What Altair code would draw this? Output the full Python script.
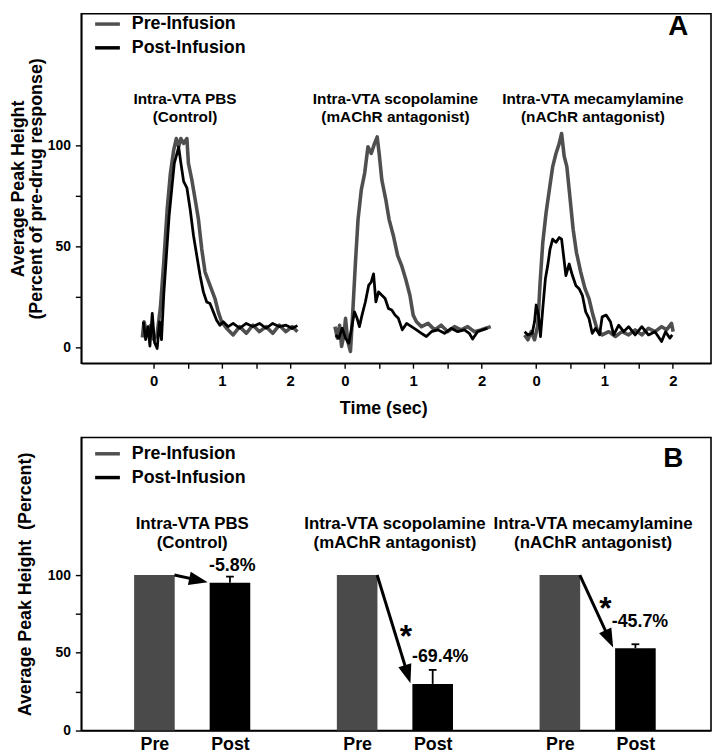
import math
import altair as alt
import pandas as pd

FONT = "Liberation Sans"

# ---------------- shared categories ----------------
phases = ["Pre-Infusion", "Post-Infusion"]
drug_line1 = ["Intra-VTA PBS", "Intra-VTA scopolamine", "Intra-VTA mecamylamine"]
drug_line2 = ["(Control)", "(mAChR antagonist)", "(nAChR antagonist)"]

# ---------------- Panel A traces (time in s, percent of pre-drug response) ----------------
pbs_pre_t = [-0.164, -0.14, -0.09, -0.045, 0.004, 0.05, 0.1, 0.15, 0.2, 0.246, 0.295, 0.333, 0.367, 0.4, 0.44,
             0.488, 0.51, 0.56, 0.609, 0.657, 0.705, 0.754, 0.826, 0.899, 0.947, 0.996, 1.068, 1.165, 1.26,
             1.357, 1.454, 1.55, 1.647, 1.744, 1.84, 1.937, 2.03, 2.106]
pbs_pre_v = [4.9, 12.7, 6.2, 10.8, 3.9, 6.2, 19.6, 42.5, 68.6, 86.0, 97.7, 103.4, 99.3, 103.4, 101.0,
             103.4, 91.2, 83.0, 73.2, 63.4, 48.7, 37.3, 30.7, 24.2, 17.6, 12.7, 9.5, 6.2, 10.3,
             7.0, 11.0, 7.8, 10.3, 7.0, 11.0, 7.8, 10.3, 7.8]
pbs_post_t = [-0.15, -0.116, -0.082, -0.053, -0.019, 0.015, 0.053, 0.087, 0.116, 0.15, 0.188, 0.227, 0.27,
              0.304, 0.343, 0.367, 0.4, 0.44, 0.488, 0.536, 0.585, 0.633, 0.681, 0.729, 0.778, 0.826, 0.875,
              0.923, 0.971, 1.02, 1.092, 1.165, 1.26, 1.357, 1.454, 1.55, 1.647, 1.744, 1.84, 1.937, 2.03, 2.106]
pbs_post_v = [12.7, 3.9, 10.3, 0.7, 16.9, 2.3, -0.5, 12.7, 3.9, 26.5, 45.4, 64.9, 79.7,
              91.2, 96.0, 99.3, 91.2, 82.2, 79.0, 68.3, 55.3, 45.4, 35.6, 27.5, 22.5, 21.7, 17.6,
              13.5, 11.0, 12.7, 10.3, 11.9, 9.5, 11.9, 10.3, 11.9, 9.5, 11.9, 10.3, 11.0, 9.5, 10.8]

sco_pre_t = [-0.145, -0.11, -0.077, -0.048, -0.014, 0.01, 0.043, 0.082, 0.116, 0.155, 0.193, 0.241, 0.29,
             0.338, 0.386, 0.435, 0.473, 0.502, 0.541, 0.599, 0.647, 0.71, 0.773, 0.831, 0.889, 0.952, 1.0,
             1.048, 1.121, 1.217, 1.314, 1.41, 1.507, 1.604, 1.7, 1.797, 1.894, 1.99, 2.063, 2.135]
sco_pre_v = [10.3, 4.6, 11.0, 0.5, 6.2, 14.4, 2.9, -2.0, 17.6, 42.1, 63.4, 78.1, 86.3,
             99.3, 96.0, 101.0, 104.2, 96.0, 82.9, 73.2, 63.4, 55.3, 45.4, 40.5, 34.0, 25.8, 16.0,
             12.7, 10.3, 11.9, 8.7, 11.0, 7.8, 10.3, 8.7, 10.3, 7.8, 8.7, 9.5, 10.3]
sco_post_t = [-0.135, -0.087, -0.039, 0.01, 0.058, 0.106, 0.14, 0.179, 0.213, 0.251, 0.3, 0.348, 0.386, 0.42,
              0.454, 0.493, 0.541, 0.589, 0.638, 0.686, 0.734, 0.783, 0.841, 0.903, 0.976, 1.048, 1.121,
              1.193, 1.266, 1.362, 1.459, 1.556, 1.652, 1.749, 1.821, 1.87, 1.942, 2.014, 2.087]
sco_post_v = [6.2, 4.6, 9.5, 4.6, 2.1, 11.0, 17.6, 14.4, 10.3, 16.0, 22.5, 30.7, 32.4, 36.4,
              22.5, 27.5, 25.8, 24.2, 19.3, 18.5, 16.0, 14.4, 8.7, 11.9, 10.3, 8.7, 7.0,
              5.4, 7.8, 8.7, 7.0, 9.5, 7.8, 8.7, 7.0, 4.2, 7.8, 8.7, 9.5]

mec_pre_t = [-0.169, -0.121, -0.072, -0.024, 0.024, 0.058, 0.097, 0.145, 0.193, 0.242, 0.29, 0.338, 0.372,
             0.41, 0.449, 0.493, 0.541, 0.589, 0.652, 0.715, 0.773, 0.831, 0.894, 0.966, 1.063, 1.159,
             1.256, 1.353, 1.449, 1.546, 1.643, 1.739, 1.836, 1.908, 1.981, 2.005]
mec_pre_v = [6.2, 3.8, 7.8, 3.8, 11.0, 32.4, 52.0, 66.7, 78.1, 89.5, 96.0, 101.0, 105.9,
             94.6, 89.5, 74.8, 58.5, 47.1, 37.3, 29.1, 24.2, 16.0, 8.7, 6.2, 7.8, 5.4,
             7.8, 6.2, 8.7, 6.2, 9.5, 7.8, 10.3, 8.7, 11.9, 7.8]
mec_post_t = [-0.169, -0.121, -0.058, -0.024, 0.0, 0.034, 0.063, 0.097, 0.135, 0.169, 0.203, 0.242, 0.29,
              0.338, 0.372, 0.401, 0.435, 0.483, 0.531, 0.58, 0.628, 0.676, 0.725, 0.773, 0.821, 0.87,
              0.928, 0.966, 1.024, 1.087, 1.135, 1.208, 1.28, 1.353, 1.449, 1.546, 1.643, 1.739, 1.836,
              1.894, 1.957, 1.991]
mec_post_v = [7.8, 6.2, 7.0, 12.7, 21.0, 16.0, 5.4, 19.3, 34.0, 40.5, 48.7, 53.6, 52.0,
              54.4, 53.6, 45.4, 35.6, 41.3, 35.6, 30.7, 29.1, 25.8, 17.6, 14.4, 7.0, 9.5,
              6.2, 15.2, 16.0, 12.7, 6.2, 11.0, 7.8, 10.3, 6.2, 10.3, 6.2, 7.8, 2.9,
              7.8, 4.6, 6.2]

traces = [
    (0, phases[0], pbs_pre_t, pbs_pre_v), (0, phases[1], pbs_post_t, pbs_post_v),
    (1, phases[0], sco_pre_t, sco_pre_v), (1, phases[1], sco_post_t, sco_post_v),
    (2, phases[0], mec_pre_t, mec_pre_v), (2, phases[1], mec_post_t, mec_post_v),
]
time_tick_labels = ["0", "1", "2"]

# ---------------- Panel B values ----------------
cond_labels = ["Pre", "Post"]
pre_values = [100, 100, 100]
post_values = [95, 30, 53]
post_err = [4, 9, 2.5]
pct_change = ["-5.8%", "-69.4%", "-45.7%"]
significant = [False, True, True]

# ---------------- layout constants ----------------
A_W, A_H = 636, 353
B_W, B_H = 636, 296
PANEL_OFFSET = [0.0, 2.8, 5.6]
A_XDOM = [-1.058, 8.159]
A_YDOM = [-7.8, 165.2]
GAP = 2.684
B_XDOM = [-0.903, -0.903 + B_W / 77.5]
B_YDOM = [0, 188.5]
PXU_X = B_W / (B_XDOM[1] - B_XDOM[0])
PXU_Y = B_H / (B_YDOM[1] - B_YDOM[0])
HALF_BAR = 20.5 / PXU_X

GRAY = "#4f4f4f"


def legend_def(ly):
    return alt.Legend(title=None, orient="none", legendX=12, legendY=ly, padding=0,
                      symbolType="stroke", symbolSize=625, symbolStrokeWidth=3.5,
                      labelFontSize=18, labelFont=FONT, labelFontWeight="bold",
                      labelColor="black", rowPadding=0, labelOffset=10)


# ---------------- Panel A ----------------
rows = []
for panel, ph, ts, vs in traces:
    for t, v in zip(ts, vs):
        rows.append({"panel": panel, "phase": ph, "t": t + PANEL_OFFSET[panel], "v": v,
                     "ord": phases.index(ph)})
df_a = pd.DataFrame(rows)

xa_vals = [round(o + d, 3) for o in PANEL_OFFSET for d in [0, 0.5, 1, 1.5, 2]]
L = "(datum.value < 2.4 ? datum.value : (datum.value < 5.2 ? datum.value - 2.8 : datum.value - 5.6))"
lbl_map = "[" + ",".join("'%s'" % s for s in time_tick_labels) + "]"
xa_expr = f"abs({L} - round({L})) < 0.01 ? {lbl_map}[round({L})] : ''"

xA = alt.X("t:Q", scale=alt.Scale(domain=A_XDOM, nice=False, zero=False),
           axis=alt.Axis(values=xa_vals, labelExpr=xa_expr, title="Time (sec)", tickSize=5,
                         labelPadding=6, labelFontSize=15, titleFontSize=18, titlePadding=11,
                         titleX=305, titleAnchor="start", titleAlign="center"))
yA = alt.Y("v:Q", scale=alt.Scale(domain=A_YDOM, nice=False, zero=False),
           axis=alt.Axis(values=[0, 25, 50, 75, 100], labelExpr="datum.value % 50 == 0 ? datum.label : ''",
                         title=["Average Peak Height", "(Percent of pre-drug response)"],
                         titleFontSize=18, titleLineHeight=18, titlePadding=2, tickSize=6, labelPadding=5))

lines = alt.Chart(df_a).mark_line(strokeJoin="round").encode(
    x=xA, y=yA,
    color=alt.Color("phase:N", scale=alt.Scale(domain=phases, range=[GRAY, "#000000"]),
                    legend=legend_def(-4)),
    strokeWidth=alt.StrokeWidth("phase:N", scale=alt.Scale(domain=phases, range=[3.6, 2.8]), legend=None),
    detail="panel:N",
    order="ord:Q",
)

title_x_local = [0.46, 0.74, 0.83]
ta_rows = []
for i in range(3):
    ta_rows.append({"x": PANEL_OFFSET[i] + title_x_local[i], "y": 123.0, "txt": drug_line1[i]})
    ta_rows.append({"x": PANEL_OFFSET[i] + title_x_local[i], "y": 114.2, "txt": drug_line2[i]})
ta = alt.Chart(pd.DataFrame(ta_rows)).mark_text(font=FONT, fontWeight="bold", fontSize=15.5,
                                                 baseline="middle", color="black").encode(
    x=alt.X("x:Q"), y=alt.Y("y:Q"), text="txt:N")
lab_a = alt.Chart(pd.DataFrame({"x": [7.68], "y": [158.8], "txt": ["A"]})).mark_text(
    font=FONT, fontWeight="bold", fontSize=28, baseline="middle", color="black").encode(
    x="x:Q", y="y:Q", text="txt:N")

panelA = alt.layer(lines, ta, lab_a).properties(width=A_W, height=A_H)

# ---------------- Panel B ----------------
b_rows = []
for g in range(3):
    b_rows.append({"g": g, "cond": cond_labels[0], "pos": g * GAP, "val": pre_values[g]})
    b_rows.append({"g": g, "cond": cond_labels[1], "pos": g * GAP + 1, "val": post_values[g]})
df_b = pd.DataFrame(b_rows)

xb_vals = [round(g * GAP + k, 3) for g in range(3) for k in (0, 1)]
xb_expr = f"round(datum.value*1000) % {int(round(GAP * 1000))} < 500 ? '{cond_labels[0]}' : '{cond_labels[1]}'"
xB = alt.X("pos:Q", scale=alt.Scale(domain=B_XDOM, nice=False, zero=False),
           axis=alt.Axis(values=xb_vals, labelExpr=xb_expr, title=None, ticks=False,
                         labelFontSize=18, labelPadding=5))
yB = alt.Y("val:Q", scale=alt.Scale(domain=B_YDOM, nice=False),
           axis=alt.Axis(values=[0, 25, 50, 75, 100], labelExpr="datum.value % 50 == 0 ? datum.label : ''",
                         title="Average Peak Height\u00a0 (Percent)", titleFontSize=18, titlePadding=13,
                         tickSize=6, labelPadding=5))

bars = alt.Chart(df_b).mark_bar(size=41).encode(
    x=xB, y=yB,
    color=alt.Color("cond:N", scale=alt.Scale(domain=cond_labels, range=["#4a4a4a", "#000000"]), legend=None),
)

# legend carrier (single-point lines draw nothing)
leg_df = pd.DataFrame({"phase": phases, "pos": [0, 0], "val": [0, 0]})
leg = alt.Chart(leg_df).mark_line().encode(
    x="pos:Q", y="val:Q",
    stroke=alt.Stroke("phase:N", scale=alt.Scale(domain=phases, range=[GRAY, "#000000"]),
                      legend=legend_def(2)),
)

err_rows, cap_rows = [], []
for g in range(3):
    p = g * GAP + 1
    err_rows.append({"x": p, "y": post_values[g], "y2": post_values[g] + post_err[g]})
    cap_rows.append({"x": p - 4 / PXU_X, "x2": p + 4 / PXU_X, "y": post_values[g] + post_err[g]})
err = alt.Chart(pd.DataFrame(err_rows)).mark_rule(color="black", strokeWidth=1.8).encode(
    x="x:Q", y="y:Q", y2="y2:Q")
cap = alt.Chart(pd.DataFrame(cap_rows)).mark_rule(color="black", strokeWidth=1.8).encode(
    x="x:Q", x2="x2:Q", y="y:Q")

arr_rows, head_rows = [], []
for g in range(3):
    sx, sy = g * GAP + HALF_BAR, pre_values[g]
    tx, ty = g * GAP + 1 - HALF_BAR - 0.03, post_values[g] + 0.4
    dx = (tx - sx) * PXU_X
    dy = (sy - ty) * PXU_Y
    Ln = math.hypot(dx, dy)
    ux, uy = dx / Ln, dy / Ln
    ex, ey = tx - 9 * ux / PXU_X, ty + 9 * uy / PXU_Y
    arr_rows.append({"x": sx, "y": sy, "x2": ex, "y2": ey})
    head_rows.append({"x": tx, "y": ty, "ang": math.degrees(math.atan2(dx, -dy))})
arrows = alt.Chart(pd.DataFrame(arr_rows)).mark_rule(color="black", strokeWidth=3).encode(
    x="x:Q", y="y:Q", x2="x2:Q", y2="y2:Q")
heads = alt.Chart(pd.DataFrame(head_rows)).mark_point(
    shape="M0,0 L0.36,1 L-0.36,1 Z", filled=True, size=1444, color="black", opacity=1).encode(
    x="x:Q", y="y:Q", angle=alt.Angle("ang:Q", scale=None))

pct_dx = [0.03, 0.1, 0.06]
pct_y = [105.5, 47.5, 70.0]
pct_df = pd.DataFrame({"x": [g * GAP + 1 + pct_dx[g] for g in range(3)], "y": pct_y, "txt": pct_change})
pct = alt.Chart(pct_df).mark_text(font=FONT, fontWeight="bold", fontSize=18, baseline="middle",
                                  color="black").encode(x="x:Q", y="y:Q", text="txt:N")

star_x = [None, 3.33, 5.97]
star_y = [None, 60.0, 78.0]
star_df = pd.DataFrame([{"x": star_x[g], "y": star_y[g], "txt": "*"} for g in range(3) if significant[g]])
stars = alt.Chart(star_df).mark_text(font=FONT, fontWeight="bold", fontSize=32, baseline="middle",
                                     color="black").encode(x="x:Q", y="y:Q", text="txt:N")

tb_dx = [0.0, 0.0, -0.06]
tb_rows = []
for g in range(3):
    cx = g * GAP + 0.5 + tb_dx[g]
    tb_rows.append({"x": cx, "y": 132.9, "txt": drug_line1[g]})
    tb_rows.append({"x": cx, "y": 120.8, "txt": drug_line2[g]})
tb = alt.Chart(pd.DataFrame(tb_rows)).mark_text(font=FONT, fontWeight="bold", fontSize=17,
                                                 baseline="middle", color="black").encode(
    x="x:Q", y="y:Q", text="txt:N")
lab_b = alt.Chart(pd.DataFrame({"x": [6.87], "y": [174.3], "txt": ["B"]})).mark_text(
    font=FONT, fontWeight="bold", fontSize=28, baseline="middle", color="black").encode(
    x="x:Q", y="y:Q", text="txt:N")

panelB = alt.layer(bars, leg, err, cap, arrows, heads, pct, stars, tb, lab_b).properties(
    width=B_W, height=B_H)

chart = alt.vconcat(panelA, panelB, spacing=75, bounds="flush").resolve_scale(
    color="independent", stroke="independent", x="independent", y="independent"
).resolve_legend(color="independent", stroke="independent").properties(
    padding={"left": 0, "top": -3, "right": 0, "bottom": 0}
).configure_view(stroke="black", strokeWidth=1.6).configure_axis(
    grid=False, domainColor="black", domainWidth=1.6, tickColor="black", tickWidth=1.4,
    labelFont=FONT, labelFontWeight="bold", labelFontSize=14, labelColor="black",
    titleFont=FONT, titleFontWeight="bold", titleColor="black",
)

chart.save("out.html", embed_options={"renderer": "svg", "actions": False})
